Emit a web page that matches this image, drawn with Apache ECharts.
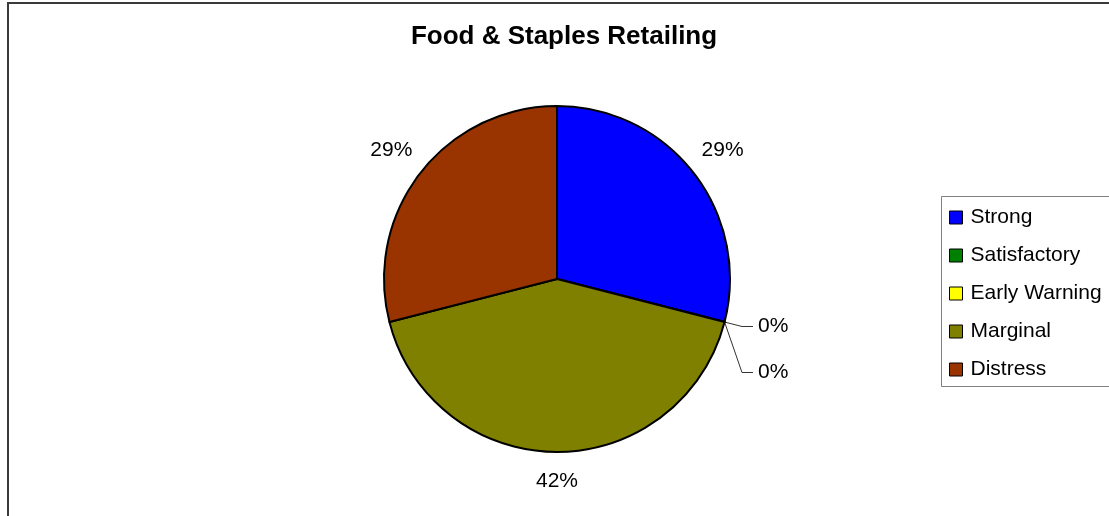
<!DOCTYPE html>
<html>
<head>
<meta charset="utf-8">
<title>Food &amp; Staples Retailing</title>
<script src="https://cdn.jsdelivr.net/npm/echarts@6/dist/echarts.min.js"></script>
<style>
  html, body { margin: 0; padding: 0; background: #ffffff; }
  #chart { width: 1109px; height: 516px; }
</style>
</head>
<body>
<div id="chart"></div>
<script>
// Rating categories and their share of the group (percent)
const categories = ['Strong', 'Satisfactory', 'Early Warning', 'Marginal', 'Distress'];
const shares = [29, 0, 0, 42, 29];
const sliceColors = ['#0000ff', '#008000', '#ffff00', '#808000', '#993300'];
const chartTitle = 'Food & Staples Retailing';

// Pie geometry
const CX = 557, CY = 279, R = 173;
const LABEL_GAP = 5;        // space between the rim and an outside label box
const LABEL_PAD_Y = 14;     // extra vertical padding around outside labels
const ZERO_LABEL_STEP = 46; // vertical step between stacked zero-value labels

const total = shares.reduce((a, b) => a + b, 0);

// Mid angle (radians, clockwise from 12 o'clock) of each slice
const midAngles = [];
let acc = 0;
shares.forEach(v => {
  midAngles.push(((acc + v / 2) / total) * Math.PI * 2);
  acc += v;
});

// Order of each zero-value slice among the zero-value slices
const zeroOrder = {};
let zc = 0;
shares.forEach((v, i) => { if (v === 0) zeroOrder[i] = zc++; });

const pieData = categories.map((name, i) => ({
  name: name,
  value: shares[i],
  itemStyle: { color: sliceColors[i] },
  labelLine: { show: shares[i] === 0 }
}));

const chart = echarts.init(document.getElementById('chart'), null, { renderer: 'canvas' });

chart.setOption({
  backgroundColor: '#ffffff',
  animation: false,
  title: {
    text: chartTitle,
    left: 564,
    top: 24,
    padding: 0,
    textAlign: 'center',
    textStyle: {
      fontFamily: 'Liberation Sans, Arial, sans-serif',
      fontSize: 26,
      fontWeight: 'bold',
      color: '#000000'
    }
  },
  graphic: [
    {
      // outer chart frame
      type: 'rect',
      z: -10,
      shape: { x: 8, y: 3, width: 1200, height: 600 },
      style: { fill: 'none', stroke: '#3a3a3a', lineWidth: 2 }
    },
    {
      // legend box
      type: 'rect',
      z: -5,
      shape: { x: 941.5, y: 196.5, width: 200, height: 190 },
      style: { fill: '#ffffff', stroke: '#808080', lineWidth: 1 }
    }
  ],
  legend: {
    orient: 'vertical',
    left: 949,
    top: 207,
    padding: 0,
    itemWidth: 13,
    itemHeight: 13,
    itemGap: 17,
    icon: 'rect',
    itemStyle: { borderColor: '#000000', borderWidth: 1 },
    textStyle: {
      fontFamily: 'Liberation Sans, Arial, sans-serif',
      fontSize: 21,
      lineHeight: 21,
      color: '#000000',
      padding: [0, 0, 0, 3]
    },
    data: categories
  },
  series: [
    {
      type: 'pie',
      center: [CX, CY],
      radius: R,
      startAngle: 90,
      clockwise: true,
      avoidLabelOverlap: false,
      legendHoverLink: false,
      silent: true,
      itemStyle: { borderColor: '#000000', borderWidth: 2 },
      label: {
        show: true,
        position: 'outside',
        distanceToLabelLine: 5,
        fontFamily: 'Liberation Sans, Arial, sans-serif',
        fontSize: 21,
        color: '#000000',
        formatter: p => Math.round(p.percent) + '%'
      },
      labelLine: {
        length: 18,
        length2: 11,
        lineStyle: { color: '#333333', width: 1 }
      },
      labelLayout: function (params) {
        const i = params.dataIndex;
        if (shares[i] === 0) {
          // stack zero-value labels downward, keeping the leader line
          // anchored on the rim
          const step = zeroOrder[i] * ZERO_LABEL_STEP;
          const out = { dy: step };
          const pts = params.labelLinePoints;
          if (pts && pts.length === 3) {
            out.labelLinePoints = [
              [pts[0][0], pts[0][1]],
              [pts[1][0], pts[1][1] + step],
              [pts[2][0], pts[2][1] + step]
            ];
          }
          return out;
        }
        const a = midAngles[i];
        const dx = Math.sin(a), dy = -Math.cos(a);
        const hw = params.labelRect.width / 2;
        const hh = params.labelRect.height / 2 + LABEL_PAD_Y;
        const dist = R + LABEL_GAP + hw * Math.abs(dx) + hh * Math.abs(dy);
        return {
          x: CX + dx * dist,
          y: CY + dy * dist,
          align: 'center',
          verticalAlign: 'middle'
        };
      },
      data: pieData
    }
  ]
});
</script>
</body>
</html>
